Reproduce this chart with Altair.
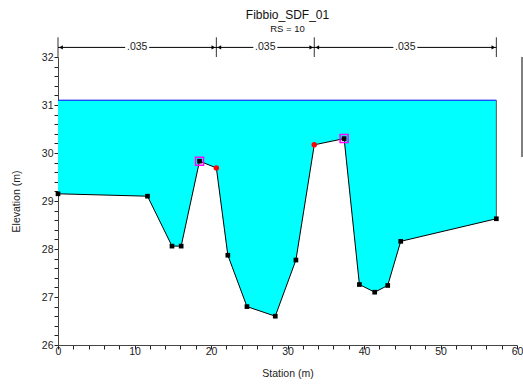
import altair as alt
import pandas as pd

chart_title = "Fibbio_SDF_01"
chart_subtitle = "RS = 10"

station = [0.0, 11.7, 14.9, 16.1, 18.5, 20.7, 22.2, 24.7, 28.4, 31.1, 33.5, 37.4, 39.4, 41.4, 43.1, 44.8, 57.3]
elevation = [29.15, 29.10, 28.06, 28.06, 29.83, 29.69, 27.87, 26.80, 26.60, 27.77, 30.17, 30.30, 27.26, 27.10, 27.24, 28.16, 28.63]
ws_elevation = 31.1
bank_stations = [20.7, 33.5]
levee_stations = [18.5, 37.4]
n_breaks = [0.0, 20.7, 33.5, 57.3]
n_labels = [".035", ".035", ".035"]

x_minor = list(range(0, 61, 2))
y_minor = [round(26 + 0.2 * i, 1) for i in range(31)]

dim_y = 32.2
dim_lo = 32.0
dim_hi = 32.41

FONT = "Liberation Sans"

ground = pd.DataFrame({"station": station, "elevation": elevation})
ground["wse"] = ws_elevation
pts = ground[~ground["station"].isin(bank_stations)]
banks = ground[ground["station"].isin(bank_stations)]
levees = ground[ground["station"].isin(levee_stations)]

top_df = pd.DataFrame({"x0": [station[0]], "x1": [station[-1]], "y": [ws_elevation]})
edge_df = pd.DataFrame({"x": [station[-1]], "y0": [elevation[-1]], "y1": [ws_elevation]})

brk_df = pd.DataFrame({"x": n_breaks, "lo": dim_lo, "hi": dim_hi})
seg_df = pd.DataFrame({
    "a": n_breaks[:-1],
    "b": n_breaks[1:],
    "label": n_labels,
})
seg_df["mid"] = (seg_df["a"] + seg_df["b"]) / 2
seg_df["y"] = dim_y
line_df = pd.DataFrame({"x0": [n_breaks[0]], "x1": [n_breaks[-1]], "y": [dim_y]})

xs = alt.Scale(domain=[0, 60], nice=False, zero=False)
ys = alt.Scale(domain=[26, 32], nice=False, zero=False)

x_axis = alt.Axis(
    values=x_minor,
    format="d",
    labelExpr="datum.value % 10 === 0 ? datum.label : ''",
    ticks=True,
    tickSize=4,
    tickColor="#222222",
    tickOpacity=1,
    tickWidth=1,
    labelFlush=False,
    title="Station (m)",
    labelPadding=-3,
    titlePadding=12,
    grid=False,
    labelOverlap=False,
)
y_axis = alt.Axis(
    values=y_minor,
    format=".0f",
    labelExpr="abs(datum.value - round(datum.value)) < 0.001 ? datum.label : ''",
    ticks=True,
    tickSize=4,
    tickColor="#222222",
    tickOpacity=1,
    tickWidth=1,
    labelFlush=False,
    title="Elevation (m)",
    labelPadding=1,
    titlePadding=20,
    grid=False,
    labelOverlap=False,
)


def X(field):
    return alt.X(field, type="quantitative", scale=xs, axis=x_axis)


def Y(field):
    return alt.Y(field, type="quantitative", scale=ys, axis=y_axis)


area = alt.Chart(ground).mark_area(color="#00FFFF", opacity=1).encode(
    x=X("station"), y=Y("elevation"), y2="wse:Q",
)
top_line = alt.Chart(top_df).mark_rule(color="#0000FF", strokeWidth=1).encode(
    x=X("x0"), x2="x1:Q", y=Y("y"),
)
edge_line = alt.Chart(edge_df).mark_rule(color="#555555", strokeWidth=1).encode(
    x=X("x"), y=Y("y0"), y2="y1:Q",
)
ground_line = alt.Chart(ground).mark_line(color="black", strokeWidth=1).encode(
    x=X("station"), y=Y("elevation"),
)
black_pts = alt.Chart(pts).mark_square(color="black", filled=True, size=22, opacity=1).encode(
    x=X("station"), y=Y("elevation"),
)
levee_pts = alt.Chart(levees).mark_square(color="#FF00FF", filled=False, size=64, strokeWidth=1.5, opacity=1).encode(
    x=X("station"), y=Y("elevation"),
)
bank_pts = alt.Chart(banks).mark_circle(color="#FF0000", size=30, opacity=1).encode(
    x=X("station"), y=Y("elevation"),
)

dim_ticks = alt.Chart(brk_df).mark_rule(color="#333333", strokeWidth=1).encode(
    x=X("x"), y=Y("lo"), y2="hi:Q",
)
dim_line = alt.Chart(line_df).mark_rule(color="black", strokeWidth=1).encode(
    x=X("x0"), x2="x1:Q", y=Y("y"),
)
dim_bg = alt.Chart(seg_df).mark_rect(color="white", width=24, height=8).encode(
    x=X("mid"), y=Y("y"),
)
dim_text = alt.Chart(seg_df).mark_text(font=FONT, fontSize=10.5, color="#222222", baseline="middle").encode(
    x=X("mid"), y=Y("y"), text="label:N",
)
arrow_l = alt.Chart(seg_df).mark_point(shape="triangle-left", filled=True, color="black", size=18, opacity=1).encode(
    x=X("a"), y=Y("y"), xOffset=alt.value(3),
)
arrow_r = alt.Chart(seg_df).mark_point(shape="triangle-right", filled=True, color="black", size=18, opacity=1).encode(
    x=X("b"), y=Y("y"), xOffset=alt.value(-3),
)
side_rule = alt.Chart(line_df).mark_rule(color="#555555", strokeWidth=1.5).encode(
    x=alt.value(464), y=alt.value(0), y2=alt.value(100),
)

chart = alt.layer(
    area, top_line, edge_line, ground_line, black_pts, levee_pts, bank_pts,
    dim_ticks, dim_line, dim_bg, dim_text, arrow_l, arrow_r, side_rule,
).properties(
    width=459,
    height=288,
    title=alt.TitleParams(
        text=chart_title,
        subtitle=chart_subtitle,
        anchor="middle",
        frame="group",
        font=FONT,
        fontSize=12,
        fontWeight="normal",
        color="#111111",
        subtitleFont=FONT,
        subtitleFontSize=9.5,
        subtitleColor="#111111",
        subtitlePadding=2,
        offset=2,
    ),
    autosize=alt.AutoSizeParams(type="none"),
    padding={"left": 58, "top": 57, "right": 6, "bottom": 40},
).configure_view(
    stroke=None
).configure_axis(
    domainColor="#444444",
    labelColor="#222222",
    labelFont=FONT,
    labelFontSize=10.5,
    titleFont=FONT,
    titleFontSize=10.5,
    titleFontWeight="normal",
    titleColor="#222222",
)

chart.save("out.html", embed_options={"renderer": "svg", "actions": False})
